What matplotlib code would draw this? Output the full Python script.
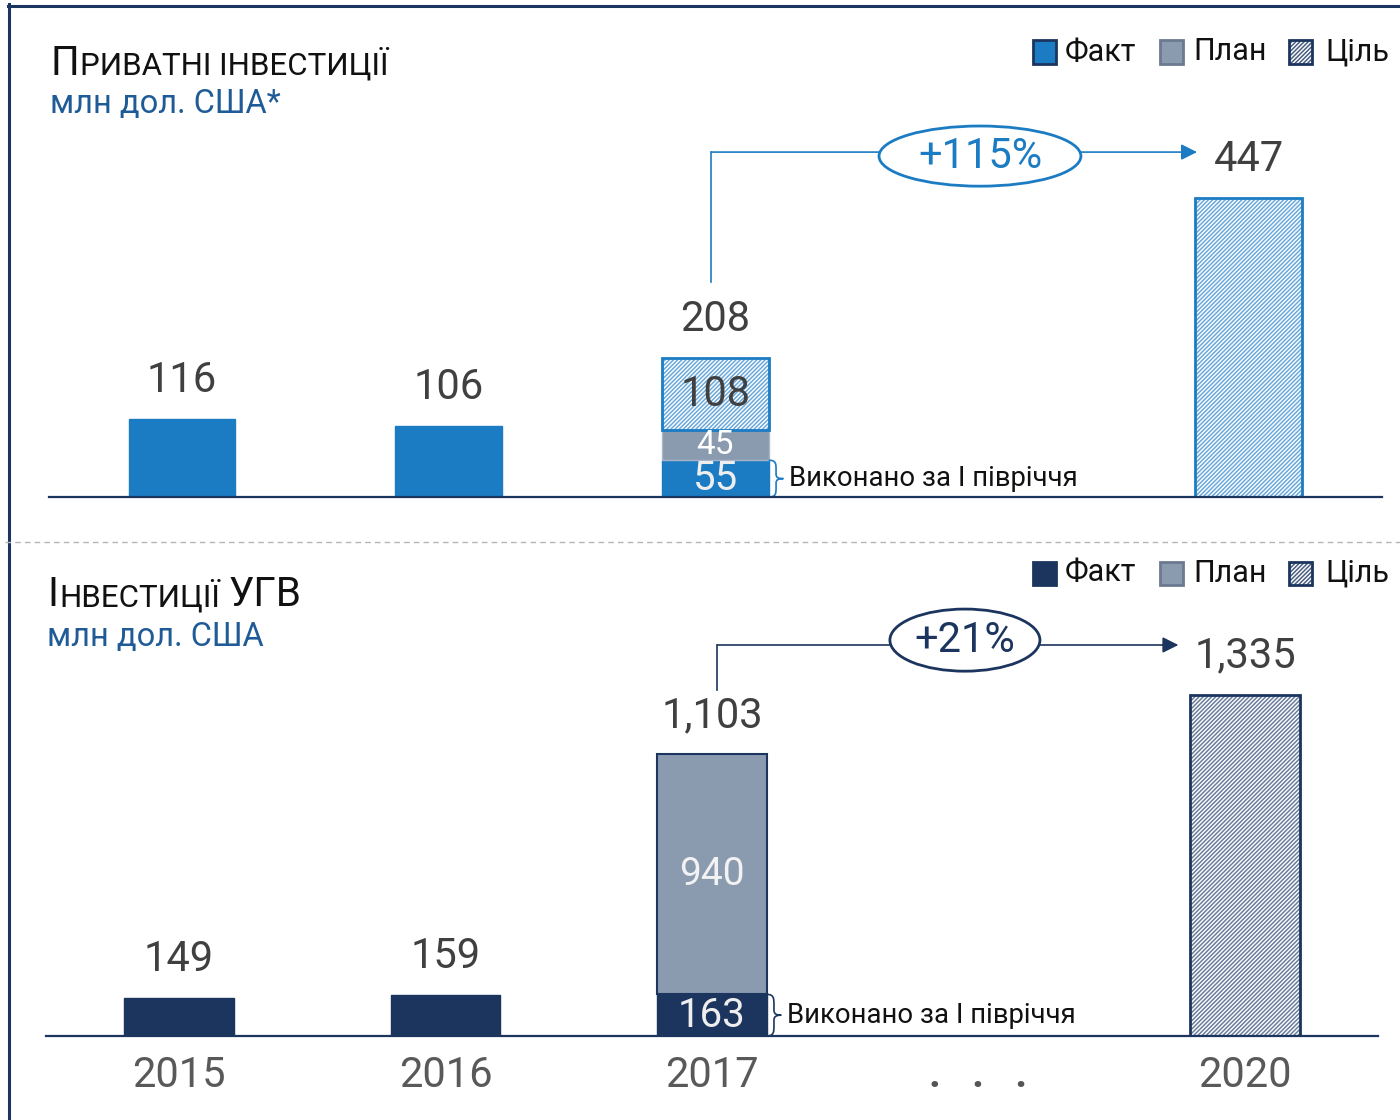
import matplotlib.pyplot as plt
from matplotlib.patches import Rectangle, Ellipse, PathPatch
from matplotlib.path import Path
from matplotlib.lines import Line2D

plt.rcParams['font.family'] = ['Roboto', 'DejaVu Sans']
plt.rcParams['hatch.linewidth'] = 1.1

# --- дані ---
years = ['2015', '2016', '2017', '2020']
x_pos = [0, 1, 2, 4]

priv_fact = [116, 106, 55]      # 2017: виконано за І півріччя
priv_plan = 45                  # план 2017
priv_goal_rest = 108            # решта до цілі 2017
priv_total_2017 = 208
priv_goal_2020 = 447
priv_growth = '+115%'

ugv_fact = [149, 159, 163]
ugv_plan = 940
ugv_total_2017 = 1103
ugv_goal_2020 = 1335
ugv_growth = '+21%'

half_label = 'Виконано за І півріччя'
legend_labels = ['Факт', 'План', 'Ціль']

BLUE = '#1b7cc3'
NAVY = '#1c355e'
GREY = '#8a9bb0'
TXT = '#404040'
HATCH = '////////'

W, H = 1400, 1120
fig = plt.figure(figsize=(14, 11.2), dpi=100)


def fx(px):
    return px / W


def fy(py):
    return 1 - py / H


def hatch_bar(ax, x, h, w, bottom, hcolor, edge):
    ax.bar(x, h, w, bottom=bottom, color='white', edgecolor=hcolor, hatch=HATCH, linewidth=0)
    ax.bar(x, h, w, bottom=bottom, fill=False, edgecolor=edge, linewidth=2)


def brace(ax, x0, y0, y1, w, color):
    pts = [(0, 0), (0.5, 0), (0.5, 0.1), (0.5, 0.25), (0.5, 0.38),
           (0.5, 0.48), (0.7, 0.5), (1, 0.5),
           (0.7, 0.5), (0.5, 0.52), (0.5, 0.62), (0.5, 0.75),
           (0.5, 0.9), (0.5, 1), (0, 1)]
    codes = [Path.MOVETO, Path.CURVE4, Path.CURVE4, Path.CURVE4, Path.LINETO,
             Path.CURVE4, Path.CURVE4, Path.CURVE4,
             Path.CURVE4, Path.CURVE4, Path.CURVE4, Path.LINETO,
             Path.CURVE4, Path.CURVE4, Path.CURVE4]
    verts = [(x0 + px * w, y0 + py * (y1 - y0)) for px, py in pts]
    ax.add_patch(PathPatch(Path(verts, codes), fill=False, edgecolor=color, lw=1.2, clip_on=False))


def growth(ax, x_from, y_from, y_line, x_to, ex, ey, ew, eh, text, color):
    ax.plot([x_from, x_from], [y_from, y_line], color=color, lw=1.2, clip_on=False)
    ax.annotate('', xy=(x_to, y_line), xytext=(x_from, y_line),
                arrowprops=dict(arrowstyle='-|>', color=color, lw=1.2, mutation_scale=24,
                                shrinkA=0, shrinkB=0), annotation_clip=False)
    ax.add_patch(Ellipse((ex, ey), ew, eh, facecolor='white', edgecolor=color, lw=2,
                         zorder=5, clip_on=False))
    ax.text(ex, ey, text, ha='center', va='center', fontsize=30, color=color, zorder=6)


def top_label(ax, x, v, txt):
    ax.annotate(txt, (x, v), xytext=(0, 19.5), textcoords='offset points',
                ha='center', va='baseline', fontsize=30, color=TXT, annotation_clip=False)


def style(ax):
    for s in ['top', 'left', 'right']:
        ax.spines[s].set_visible(False)
    ax.spines['bottom'].set_color(NAVY)
    ax.spines['bottom'].set_linewidth(1.6)
    ax.set_yticks([])
    ax.tick_params(axis='x', length=0)


# --- верхня панель: приватні інвестиції ---
ax1 = fig.add_axes([fx(49), fy(497), fx(1333), 377 / H])
ax1.set_xlim(-0.4987, 4.4995)
ax1.set_ylim(0, 564)
style(ax1)
ax1.set_xticks([])

bw = 0.40
ax1.bar(x_pos[:3], priv_fact, bw, color=BLUE, edgecolor=BLUE, linewidth=1)
ax1.bar(2, priv_plan, bw, bottom=priv_fact[2], color=GREY, edgecolor='#a9b5c6', linewidth=1)
hatch_bar(ax1, 2, priv_goal_rest, bw, priv_fact[2] + priv_plan, '#6aa9dc', BLUE)
hatch_bar(ax1, 4, priv_goal_2020, bw, 0, '#6aa9dc', BLUE)

for x, v in zip(x_pos[:2], priv_fact[:2]):
    top_label(ax1, x, v, str(v))
top_label(ax1, 2, priv_total_2017, str(priv_total_2017))
top_label(ax1, 4, priv_goal_2020, str(priv_goal_2020))

ax1.text(2, priv_fact[2] / 2, str(priv_fact[2]), ha='center', va='center', fontsize=29, color='#eeeeee')
ax1.text(2, priv_fact[2] + priv_plan / 2, str(priv_plan), ha='center', va='center', fontsize=24, color='white')
ax1.text(2, priv_fact[2] + priv_plan + priv_goal_rest / 2, str(priv_goal_rest),
         ha='center', va='center', fontsize=30, color=TXT)

brace(ax1, 2 + bw / 2, 0, priv_fact[2], 0.055, BLUE)
ax1.text(2 + bw / 2 + 0.075, priv_fact[2] / 2, half_label, ha='left', va='center', fontsize=19.8, color='#111111')

growth(ax1, 1.985, 322, 516, 3.806, 2.992, 510, 0.757, 90, priv_growth, BLUE)

# --- нижня панель: інвестиції УГВ ---
ax2 = fig.add_axes([fx(46), fy(1036), fx(1332), 436 / H])
ax2.set_xlim(-0.499, 4.499)
ax2.set_ylim(0, 1706)
style(ax2)

bw2 = 0.41
ax2.bar(x_pos[:3], ugv_fact, bw2, color=NAVY, edgecolor=NAVY, linewidth=1)
ax2.bar(2, ugv_plan, bw2, bottom=ugv_fact[2], color=GREY, edgecolor=NAVY, linewidth=1.5)
hatch_bar(ax2, 4, ugv_goal_2020, bw2, 0, '#6a7d9b', NAVY)

for x, v in zip(x_pos[:2], ugv_fact[:2]):
    top_label(ax2, x, v, str(v))
top_label(ax2, 2, ugv_total_2017, f'{ugv_total_2017:,}')
top_label(ax2, 4, ugv_goal_2020, f'{ugv_goal_2020:,}')

ax2.text(2, ugv_fact[2] / 2, str(ugv_fact[2]), ha='center', va='center', fontsize=29, color='#eeeeee')
ax2.text(2, ugv_fact[2] + ugv_plan / 2, str(ugv_plan), ha='center', va='center', fontsize=28, color='#f2f2f2')

brace(ax2, 2 + bw2 / 2, 0, ugv_fact[2], 0.055, NAVY)
ax2.text(2 + bw2 / 2 + 0.075, ugv_fact[2] / 2, half_label, ha='left', va='center', fontsize=19.8, color='#111111')

growth(ax2, 2.02, 1354, 1530, 3.75, 2.949, 1549, 0.563, 243, ugv_growth, NAVY)

ax2.set_xticks([0, 1, 2, 3, 4])
ax2.set_xticklabels(years[:3] + ['.   .   .'] + [years[3]], fontsize=30, color='#595959')
ax2.tick_params(axis='x', pad=14)
dots = ax2.get_xticklabels()[3]
dots.set_color('#555555')
dots.set_fontweight('bold')

# --- рамка і розділювач ---
fig.add_artist(Line2D([fx(9), fx(9)], [fy(4), 0], color=NAVY, lw=2.2))
fig.add_artist(Line2D([fx(8), 1], [fy(5.5), fy(5.5)], color=NAVY, lw=2.2))
fig.add_artist(Line2D([fx(5), 1], [fy(542), fy(542)], color='#b5b5b5', lw=1, ls=(0, (4, 3))))

# --- заголовки (капітель) ---
renderer = fig.canvas.get_renderer()


def title_parts(x, y, parts, color):
    for s, fs, gap in parts:
        x += gap
        t = fig.text(fx(x), fy(y), s, fontsize=fs, color=color, va='baseline', ha='left')
        x = t.get_window_extent(renderer).x1


title_parts(50, 75, [('П', 29, 0), ('РИВАТНІ ІНВЕСТИЦІЇ', 22.5, 1)], '#111111')
fig.text(fx(50), fy(113), 'млн дол. США*', fontsize=23.5, color='#1f5b96', va='baseline')
title_parts(47, 606, [('І', 29, 0), ('НВЕСТИЦІЇ', 22.5, 1), ('УГВ', 29, 9)], '#111111')
fig.text(fx(47), fy(646), 'млн дол. США', fontsize=23.5, color='#1f5b96', va='baseline')


# --- легенди ---
def legend_row(y, fact_color, goal_hatch):
    sq_w, sq_h = fx(23), 23 / H
    (a0, a1), (b0, b1), (c0, c1) = [(1033, 1065), (1160, 1193), (1289, 1325)]
    fig.add_artist(Rectangle((fx(a0), fy(y + 11.5)), sq_w, sq_h, facecolor=fact_color,
                             edgecolor=NAVY, lw=2, transform=fig.transFigure))
    fig.add_artist(Rectangle((fx(b0), fy(y + 11.5)), sq_w, sq_h, facecolor=GREY,
                             edgecolor='#6b7a90', lw=2, transform=fig.transFigure))
    fig.add_artist(Rectangle((fx(c0), fy(y + 11.5)), sq_w, sq_h, facecolor='white',
                             edgecolor=goal_hatch, hatch=HATCH, lw=0, transform=fig.transFigure))
    fig.add_artist(Rectangle((fx(c0), fy(y + 11.5)), sq_w, sq_h, fill=False,
                             edgecolor=NAVY, lw=2, transform=fig.transFigure))
    for tx, lab in zip([a1, b1, c1], legend_labels):
        fig.text(fx(tx), fy(y), lab, fontsize=22, color='#111111', va='center', ha='left')


legend_row(52, BLUE, '#4a5f80')
legend_row(573, NAVY, '#4a5f80')

fig.savefig('out.png', dpi=100)
